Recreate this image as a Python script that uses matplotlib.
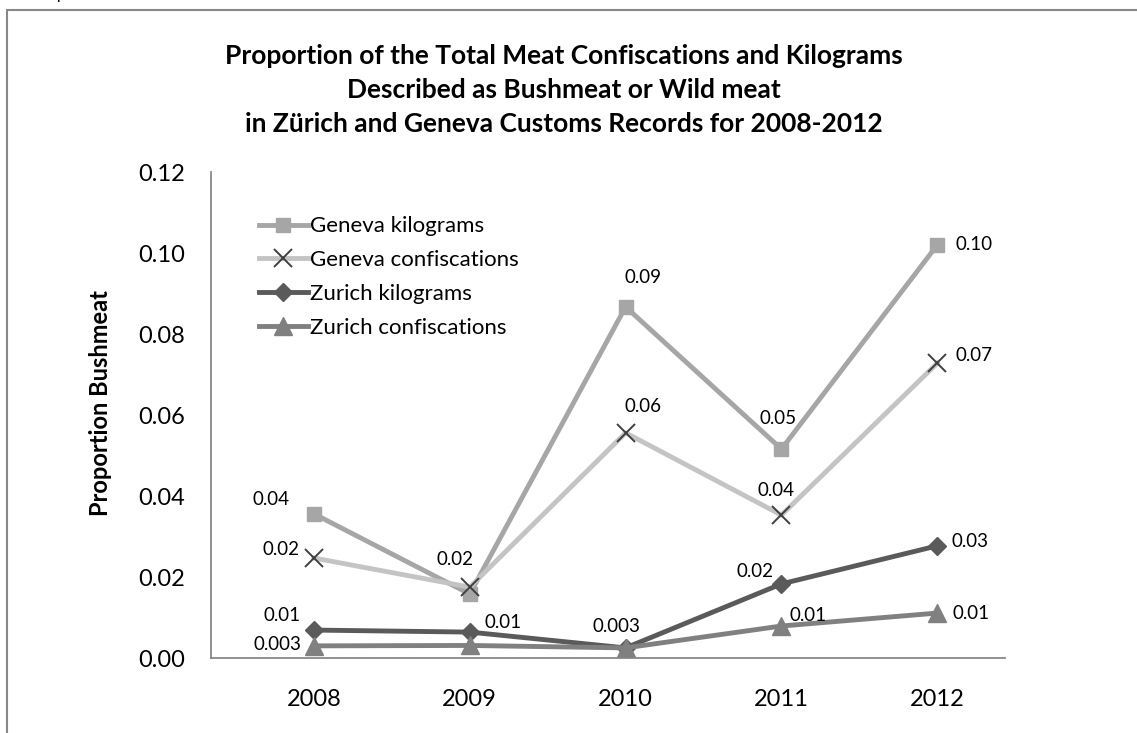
import matplotlib.pyplot as plt
from matplotlib.patches import Rectangle

plt.rcParams['font.family'] = ['Lato', 'DejaVu Sans']

years = ['2008', '2009', '2010', '2011', '2012']
geneva_kg = [0.0356, 0.0158, 0.0867, 0.0516, 0.1020]
geneva_conf = [0.0247, 0.0175, 0.0556, 0.0353, 0.0728]
zurich_kg = [0.0069, 0.0064, 0.0025, 0.0183, 0.0277]
zurich_conf = [0.0030, 0.0031, 0.0025, 0.0079, 0.0111]

geneva_kg_labels = ['0.04', None, '0.09', '0.05', '0.10']
geneva_conf_labels = ['0.02', '0.02', '0.06', '0.04', '0.07']
zurich_kg_labels = ['0.01', '0.01', None, '0.02', '0.03']
zurich_conf_labels = ['0.003', None, '0.003', '0.01', '0.01']

y_ticks = [0.00, 0.02, 0.04, 0.06, 0.08, 0.10, 0.12]

fig = plt.figure(figsize=(11.37, 7.33), dpi=100)
ax = fig.add_axes([0.1856, 0.1023, 0.6984, 0.663])

x = list(range(len(years)))

# Series styles: (values, labels, name, line colour, marker, marker colour, marker size, label offsets)
series = [
    (geneva_kg, geneva_kg_labels, 'Geneva kilograms', '#A6A6A6', 's', '#A6A6A6', 9.5,
     [(-43, 14, 'center'), None, (17, 29, 'center'), (-3, 31, 'center'), (18, 0, 'left')]),
    (geneva_conf, geneva_conf_labels, 'Geneva confiscations', '#C4C4C4', 'x', '#3F3F3F', 13,
     [(-14, 8, 'right'), (-15, 28, 'center'), (17, 26, 'center'), (-5, 25, 'center'), (18, 8, 'left')]),
    (zurich_kg, zurich_kg_labels, 'Zurich kilograms', '#5A5A5A', 'D', '#5A5A5A', 9,
     [(-13, 15, 'right'), (15, 10, 'left'), None, (-8, 12, 'right'), (14, 4, 'left')]),
    (zurich_conf, zurich_conf_labels, 'Zurich confiscations', '#808080', '^', '#808080', 13,
     [(-13, 1, 'right'), None, (-9, 21, 'center'), (8, 11, 'left'), (15, 0, 'left')]),
]

for vals, labels, name, color, marker, mcolor, msize, offsets in series:
    ax.plot(x, vals, color=color, linewidth=3.5, marker=marker, markersize=msize,
            markerfacecolor=mcolor, markeredgecolor=mcolor,
            markeredgewidth=1.4 if marker == 'x' else 1, label=name)
    for xi, v, lab, off in zip(x, vals, labels, offsets):
        if lab is None:
            continue
        dx, dy, ha = off
        ax.annotate(lab, (xi, v), xytext=(dx, dy), textcoords='offset pixels',
                    ha=ha, va='center', fontsize=13.5, color='black')

ax.set_xlim(-0.66, 4.435)
ax.set_ylim(0, 0.12)
ax.set_xticks(x)
ax.set_xticklabels(years)
ax.set_yticks(y_ticks)
ax.set_yticklabels(['%.2f' % t for t in y_ticks])
ax.tick_params(axis='both', length=0, labelsize=17)
ax.tick_params(axis='x', pad=22)
ax.tick_params(axis='y', pad=19)

for side in ['top', 'right']:
    ax.spines[side].set_visible(False)
for side in ['left', 'bottom']:
    ax.spines[side].set_color('#888888')
    ax.spines[side].set_linewidth(1.3)

ax.set_ylabel('Proportion Bushmeat', fontsize=17, fontweight='bold')
ax.yaxis.set_label_coords(-0.125, 0.525)

leg = ax.legend(loc='upper left', bbox_to_anchor=(0.035, 0.95), frameon=False,
                fontsize=16, handlelength=2.2, handletextpad=0.1, labelspacing=0.62)

fig.text(0.496, 0.877,
         'Proportion of the Total Meat Confiscations and Kilograms\n'
         'Described as Bushmeat or Wild meat\n'
         'in Zürich and Geneva Customs Records for 2008-2012',
         ha='center', va='center', fontsize=19, fontweight='bold', linespacing=1.5)

# Frame of the chart object and the clipped sentence above it
fig.patches.append(Rectangle((7 / 1137, -0.05), 1.2, 1 - 10 / 733 + 0.05,
                             transform=fig.transFigure, fill=False,
                             edgecolor='#888888', linewidth=1.5))
fig.text(0.0, 1.008, 'each airport is similar.', ha='left', va='center', fontsize=12)

fig.savefig('out.png', dpi=100)
